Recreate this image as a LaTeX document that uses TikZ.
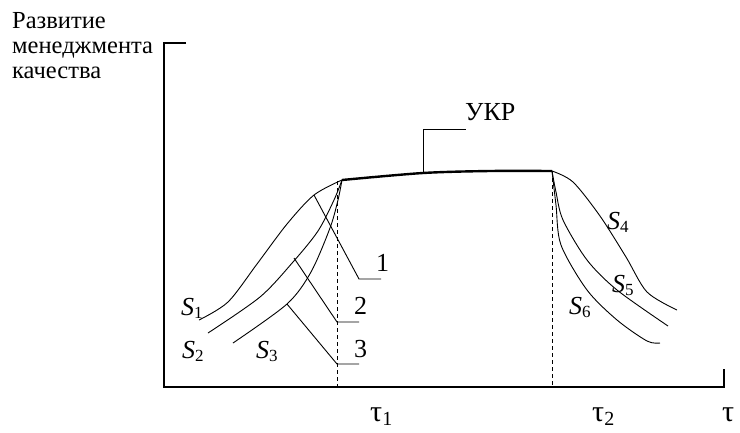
\documentclass[tikz,border=0pt]{standalone}
\usepackage{fontspec}
\setmainfont{Liberation Serif}
\tikzset{
  axis/.style={line width=1.4pt},
  curve/.style={line width=0.9pt},
  lead/.style={line width=0.9pt},
  guide/.style={line width=0.9pt, dash pattern=on 4pt off 3pt},
  txt/.style={font=\fontsize{24.5}{25}\selectfont, inner sep=0pt},
  lbl/.style={font=\fontsize{26}{28}\selectfont, inner sep=0pt},
  taulbl/.style={font=\fontsize{30}{32}\selectfont, inner sep=0pt},
}
\newcommand\Slab[1]{\textit{S}\raisebox{-0.3ex}{\fontsize{17}{17}\selectfont #1}}
\newcommand\Tlab[1]{τ\raisebox{-0.3ex}{\fontsize{20}{20}\selectfont #1}}
\begin{document}
\begin{tikzpicture}[x=1pt,y=-1pt]
\useasboundingbox (0,0) rectangle (740,432);
% title
\node[txt, anchor=base west] (title1) at (12,28) {Развитие};
\node[txt, anchor=base west] (title2) at (12,53) {менеджмента};
\node[txt, anchor=base west] (title3) at (12,78) {качества};
% axes
\coordinate (ytop) at (186,43);
\coordinate (ycorner) at (164,43);
\coordinate (origin) at (164,387);
\coordinate (xend) at (724,387);
\coordinate (xtick) at (724,369);
\draw[axis] (ytop) -- (ycorner) -- (origin) -- (xend) -- (xtick);
% key points
\coordinate (P1) at (342,180);
\coordinate (P2) at (552,171);
% dashed guides
\coordinate (T1base) at (337,387);
\coordinate (T1top) at (337,181);
\coordinate (T2base) at (552,387);
\draw[guide] (T1top) -- (T1base);
\draw[guide] (P2) -- (T2base);
% UKR plateau
\draw[line width=2.4pt] plot[smooth] coordinates {(342,180) (423,173) (490,171) (552,171)};
\coordinate (U0) at (423,173);
\coordinate (U1) at (423,129);
\coordinate (U2) at (466,129);
\draw[lead] (U0) -- (U1) -- (U2);
\node[lbl, anchor=base west] (ukr) at (465,120) {УКР};
% left curves
\draw[curve] plot[smooth] coordinates {(199,320) (228,302) (257,264) (287,224) (314,195) (342,180)};
\draw[curve] plot[smooth] coordinates {(208,333) (260,297) (293,262) (318,231) (334,200) (342,180)};
\draw[curve] plot[smooth] coordinates {(233,343) (287,304) (311,272) (330,228) (338,200) (342,180)};
% right curves
\draw[curve] plot[smooth] coordinates {(552,171) (573,182) (600,216) (626,257) (647,292) (677,310)};
\draw[curve] plot[smooth] coordinates {(552,171) (556,192) (563,220) (587,260) (617,290) (668,326)};
\draw[curve] plot[smooth] coordinates {(552,171) (556,205) (561,245) (587,290) (617,320) (647,341) (660,343)};
% callouts 1,2,3
\coordinate (c1a) at (314,195);
\coordinate (c1b) at (359,279);
\coordinate (c1c) at (381,279);
\draw[lead] (c1a) -- (c1b) -- (c1c);
\node[lbl, anchor=base west] (n1) at (376,271) {1};
\coordinate (c2a) at (294,258);
\coordinate (c2b) at (337,322);
\coordinate (c2c) at (359,322);
\draw[lead] (c2a) -- (c2b) -- (c2c);
\node[lbl, anchor=base west] (n2) at (354,314) {2};
\coordinate (c3a) at (287,304);
\coordinate (c3b) at (337,364);
\coordinate (c3c) at (359,364);
\draw[lead] (c3a) -- (c3b) -- (c3c);
\node[lbl, anchor=base west] (n3) at (354,357) {3};
% S labels
\node[lbl, anchor=base west] (s1) at (181,315) {\Slab{1}};
\node[lbl, anchor=base west] (s2) at (182,358) {\Slab{2}};
\node[lbl, anchor=base west] (s3) at (256,358) {\Slab{3}};
\node[lbl, anchor=base west] (s4) at (607,229) {\Slab{4}};
\node[lbl, anchor=base west] (s5) at (612,292) {\Slab{5}};
\node[lbl, anchor=base west] (s6) at (569,314) {\Slab{6}};
% tau labels
\node[taulbl, anchor=base west] (t1) at (370,421) {\Tlab{1}};
\node[taulbl, anchor=base west] (t2) at (592,421) {\Tlab{2}};
\node[taulbl, anchor=base west] (t) at (722,421) {τ};
\end{tikzpicture}
\end{document}
